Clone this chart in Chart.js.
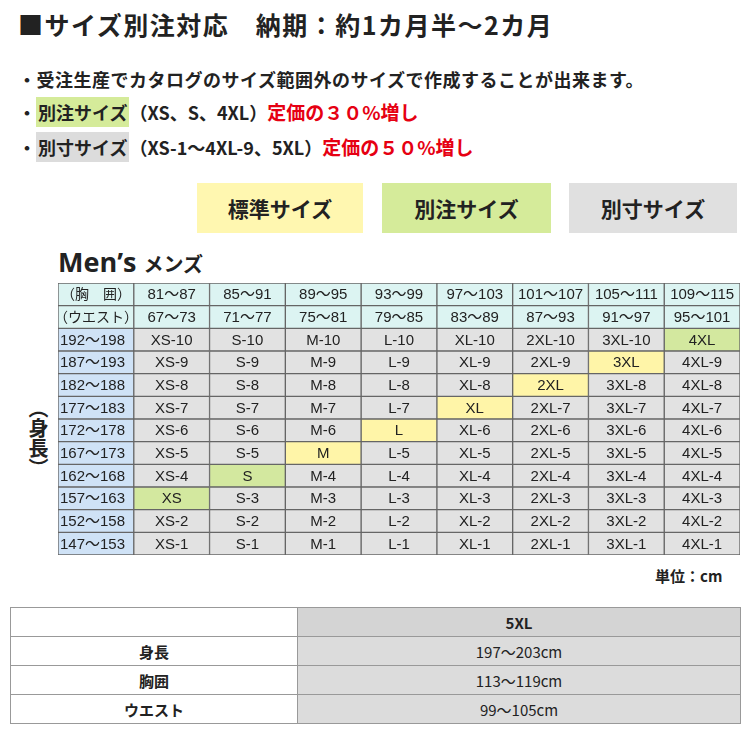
<!DOCTYPE html>
<html><head><meta charset="utf-8">
<script src="https://cdn.jsdelivr.net/npm/chart.js@4"></script>
<style>
body{margin:0;width:750px;height:750px;position:relative;font-family:"Noto Sans CJK JP",sans-serif;background:#fff;color:#222;overflow:hidden}
.a{position:absolute;white-space:nowrap}
.btn{position:absolute;top:183px;height:50px;line-height:50px;text-align:center;font-weight:bold;font-size:21px}
table.b{position:absolute;left:10px;top:607px;width:731px;border-collapse:collapse;font-size:15px}
table.b td{border:1px solid #999;height:28px;text-align:center;padding:0}
.red{color:#e60012;font-size:19px}
</style></head><body>
<div class="a" style="left:18px;top:6px;font-size:25px;font-weight:bold;letter-spacing:1.5px">■サイズ別注対応　納期：約1カ月半～2カ月</div>
<div class="a" style="left:18px;top:66px;font-size:18px;font-weight:bold;letter-spacing:0.5px">・受注生産でカタログのサイズ範囲外のサイズで作成することが出来ます。</div>
<div class="a" style="left:18px;top:98px;font-size:18px;font-weight:bold">・<span style="background:#d5eb9a;padding:2px 2px">別注サイズ</span>（XS、S、4XL）<span class="red">定価の３０%増し</span></div>
<div class="a" style="left:18px;top:133px;font-size:18px;font-weight:bold">・<span style="background:#dcdcdc;padding:2px 2px">別寸サイズ</span>（XS-1～4XL-9、5XL）<span class="red">定価の５０%増し</span></div>
<div class="btn" style="left:197px;width:166px;background:#fff7b0">標準サイズ</div>
<div class="btn" style="left:382px;width:169px;background:#d5eb9a">別注サイズ</div>
<div class="btn" style="left:569px;width:168px;background:#e0e0e0">別寸サイズ</div>
<div class="a" style="left:58px;top:243px;font-size:27px;font-weight:bold;font-family:'Open Sans',sans-serif">Men’s <span style="font-size:20px;font-family:'Noto Sans CJK JP'">メンズ</span></div>
<div class="a" style="left:24px;top:398px;font-size:20px;font-weight:bold;writing-mode:vertical-rl">（身長）</div>
<div style="position:absolute;left:57px;top:282px;width:684px;height:274px"><canvas id="c"></canvas></div>
<div class="a" style="left:655px;top:565px;font-size:15px;font-weight:bold">単位：cm</div>
<table class="b" id="bt"></table>
<script>
const chestRow=["（胸　囲）","81～87","85～91","89～95","93～99","97～103","101～107","105～111","109～115"];
const waistRow=["（ウエスト）","67～73","71～77","75～81","79～85","83～89","87～93","91～97","95～101"];
const heights=["192～198","187～193","182～188","177～183","172～178","167～173","162～168","157～163","152～158","147～153"];
const sizes=["XS","S","M","L","XL","2XL","3XL","4XL"];
const stdCells={"M":5,"L":4,"XL":3,"2XL":2,"3XL":1};   // size -> row index of standard size
const specialCells={"XS":7,"S":6,"4XL":0};
const extraHeaders=["","5XL"];
const extraRows=[["身長","197～203cm"],["胸囲","113～119cm"],["ウエスト","99～105cm"]];

const rowLabels=["chest","waist"].concat(heights);
const grid=[chestRow,waistRow];
heights.forEach((h,r)=>{
  const row=[h];
  sizes.forEach(s=>{
    if(stdCells[s]===r||specialCells[s]===r) row.push(s);
    else row.push(s+"-"+(10-r));
  });
  grid.push(row);
});
function color(r,c){
  if(r<2) return "#dcf4f2";
  if(c===0) return "#cfe2f6";
  const s=sizes[c-1];
  if(stdCells[s]===r-2) return "#fff5a8";
  if(specialCells[s]===r-2) return "#d3e89f";
  return "#e2e2e2";
}
const datasets=[];
for(let c=0;c<9;c++){
  datasets.push({data:rowLabels.map(()=>[c,c+1]),
    backgroundColor:rowLabels.map((_,r)=>color(r,c)),
    borderColor:"#666",borderWidth:1,borderSkipped:false,grouped:false,
    barPercentage:1,categoryPercentage:1});
}
const textPlugin={id:"t",afterDatasetsDraw(ch){
  const ctx=ch.ctx,x=ch.scales.x,y=ch.scales.y;
  ctx.save();ctx.fillStyle="#222";ctx.textBaseline="middle";
  grid.forEach((row,r)=>row.forEach((t,c)=>{
    ctx.font=(r<2&&c===0?"14px":"15px")+" 'Liberation Sans','Noto Sans CJK JP',sans-serif";
    ctx.textAlign=(c===0&&r>=2)?"left":"center";
    const px=(c===0&&r>=2)?x.getPixelForValue(0)+2:x.getPixelForValue(c+0.5);
    ctx.fillText(t,px,y.getPixelForValue(r)+1);
  }));
  ctx.restore();
}};
new Chart(document.getElementById("c"),{type:"bar",
  data:{labels:rowLabels,datasets},
  options:{indexAxis:"y",responsive:true,maintainAspectRatio:false,animation:false,
    layout:{padding:{top:1,bottom:1,left:1,right:1}},
    plugins:{legend:{display:false},tooltip:{enabled:false}},
    scales:{x:{display:false,min:0,max:9},y:{display:false}}},
  plugins:[textPlugin]});

const bt=document.getElementById("bt");
let h="<tr><td style='width:286px;font-weight:bold'>"+extraHeaders[0]+"</td><td style='background:#d4d4d4;font-weight:bold'>"+extraHeaders[1]+"</td></tr>";
extraRows.forEach(r=>{h+="<tr><td style='font-weight:bold'>"+r[0]+"</td><td style='background:#dcdcdc'>"+r[1]+"</td></tr>";});
bt.innerHTML=h;
</script>
</body></html>
